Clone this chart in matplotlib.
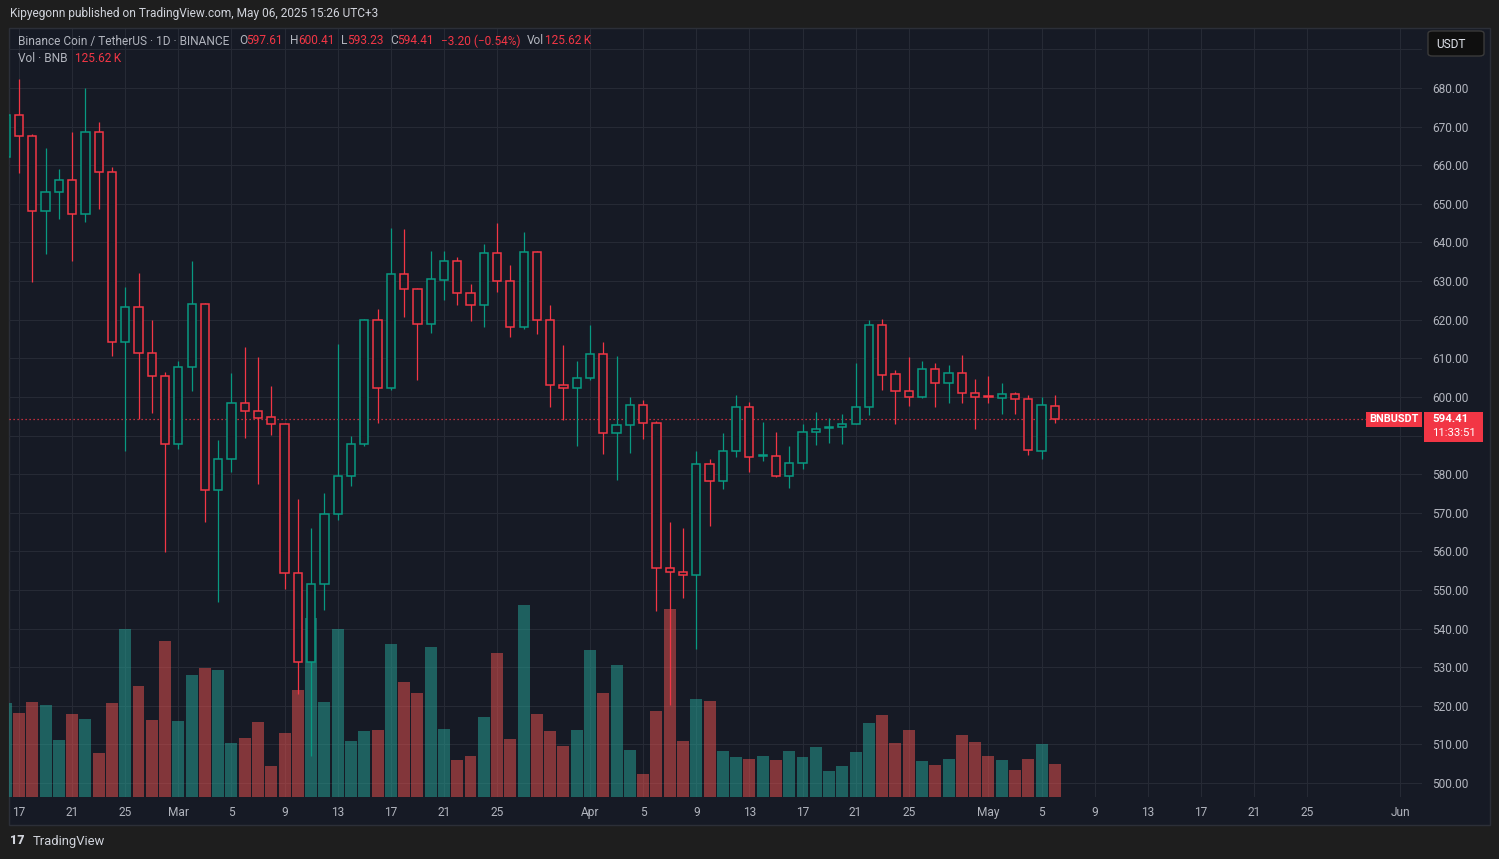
import matplotlib
matplotlib.use("Agg")
import matplotlib.pyplot as plt
import numpy as np
from matplotlib.patches import Rectangle, FancyBboxPatch
from matplotlib.transforms import blended_transform_factory

# BNB/USDT daily candles, 2025-02-16 .. 2025-05-06
FIRST_DAY = "2025-02-16"
OPEN = [662.2, 673.1, 667.5, 648.1, 653.1, 656.3, 647.5, 668.5, 658.3, 614.1,
        623.4, 611.5, 605.3, 587.9, 607.8, 624.0, 575.9, 583.9, 598.3, 596.4,
        594.7, 593.1, 554.5, 531.3, 551.6, 569.8, 579.6, 587.7, 619.8, 602.2,
        631.8, 627.9, 618.8, 630.4, 635.1, 627.0, 623.7, 637.2, 629.9, 618.1,
        637.6, 619.9, 603.1, 602.3, 604.9, 611.1, 590.6, 592.7, 597.9, 593.2,
        555.6, 554.6, 554.0, 582.5, 578.3, 586.1, 597.5, 584.6, 584.8, 579.6,
        583.0, 590.8, 591.9, 592.1, 593.1, 597.5, 618.6, 605.9, 601.6, 600.1,
        607.2, 603.6, 606.2, 601.0, 600.1, 599.8, 600.8, 599.5, 586.1, 597.61]
HIGH = [675.0, 682.3, 668.2, 664.4, 659.0, 668.6, 680.0, 671.2, 659.5, 628.6,
        632.0, 619.8, 606.4, 609.4, 635.2, 624.2, 588.8, 606.2, 612.9, 610.3,
        602.7, 593.3, 573.5, 566.0, 575.1, 613.7, 589.8, 620.2, 622.8, 643.8,
        643.5, 628.2, 637.8, 637.8, 636.3, 629.3, 639.6, 645.1, 634.2, 642.6,
        637.8, 623.9, 613.5, 609.2, 618.7, 614.1, 610.6, 600.1, 599.3, 593.8,
        567.7, 566.1, 586.1, 583.8, 590.6, 600.6, 598.8, 593.4, 591.0, 587.2,
        593.1, 596.2, 594.6, 595.5, 608.7, 620.0, 620.2, 607.0, 610.3, 609.4,
        608.9, 608.3, 610.9, 604.7, 605.5, 603.7, 601.3, 600.5, 600.1, 600.41]
LOW = [660.0, 658.1, 629.8, 637.0, 646.1, 635.2, 645.4, 648.7, 610.6, 585.9,
       594.4, 595.8, 559.8, 586.6, 601.5, 567.7, 546.9, 580.6, 589.4, 577.5,
       590.2, 550.2, 523.0, 506.9, 544.8, 568.1, 576.8, 587.2, 593.3, 601.8,
       620.6, 604.4, 616.6, 625.1, 623.9, 619.7, 618.2, 627.2, 615.4, 617.5,
       616.2, 597.3, 593.9, 587.4, 604.5, 585.1, 578.6, 585.4, 589.0, 544.5,
       520.3, 547.8, 534.7, 566.6, 576.2, 584.5, 580.6, 583.4, 579.3, 576.4,
       581.3, 587.6, 588.1, 587.8, 592.9, 595.3, 601.7, 593.0, 597.7, 599.7,
       597.4, 598.4, 598.4, 591.7, 598.4, 595.6, 595.6, 584.9, 583.9, 593.23]
CLOSE = [673.1, 667.5, 648.1, 653.1, 656.3, 647.5, 668.5, 658.3, 614.1, 623.4,
         611.5, 605.3, 587.9, 607.8, 624.0, 575.9, 584.0, 598.3, 596.4, 594.6,
         593.0, 554.5, 531.3, 551.6, 569.8, 579.6, 587.7, 619.8, 602.2, 631.8,
         627.9, 618.8, 630.5, 635.1, 627.0, 623.7, 637.2, 629.9, 618.1, 637.6,
         619.9, 603.1, 602.3, 604.9, 611.1, 590.6, 592.7, 597.9, 593.2, 555.6,
         554.6, 553.8, 582.5, 578.3, 586.1, 597.5, 584.5, 585.0, 579.6, 583.0,
         590.8, 591.8, 592.2, 593.1, 597.5, 618.6, 605.7, 601.6, 600.1, 607.2,
         603.6, 606.2, 601.0, 600.0, 599.9, 600.8, 599.5, 586.3, 597.8, 594.41]
# volume, thousands of BNB
VOLUME_K = [358, 320, 362, 351, 217, 316, 297, 168, 358, 640, 423, 293, 594,
            290, 465, 491, 484, 206, 225, 286, 118, 244, 408, 682, 362, 640,
            213, 251, 255, 583, 438, 396, 572, 259, 141, 156, 305, 549, 221,
            732, 316, 251, 194, 255,
            560, 396, 503, 179, 88, 328, 716, 213, 373, 366, 175, 152, 145,
            156, 141, 175, 152, 191, 99, 118, 171, 282, 312, 206, 255, 137,
            122, 145, 236, 210,
            156, 141, 103, 145, 202, 125.62]

TICK_DATES = ["2025-02-17", "2025-02-21", "2025-02-25", "2025-03-01", "2025-03-05",
              "2025-03-09", "2025-03-13", "2025-03-17", "2025-03-21", "2025-03-25",
              "2025-04-01", "2025-04-05", "2025-04-09", "2025-04-13", "2025-04-17",
              "2025-04-21", "2025-04-25", "2025-05-01", "2025-05-05", "2025-05-09",
              "2025-05-13", "2025-05-17", "2025-05-21", "2025-05-25", "2025-06-01"]
TICK_LABELS = ["17", "21", "25", "Mar", "5", "9", "13", "17", "21", "25",
               "Apr", "5", "9", "13", "17", "21", "25",
               "May", "5", "9", "13", "17", "21", "25", "Jun"]
PRICE_TICKS = list(range(500, 690, 10))
HIDDEN_TICKS = [590, 690]          # covered by the last-price box / currency box
LAST_PRICE = 594.41

BG = "#161a25"
GRID = "#262a35"
UP = "#089981"
DOWN = "#f23645"
VOL_UP = "#26a69a"
VOL_DOWN = "#ef5350"
TXT = "#b2b5be"
FS = 8.6

W, H = 1499, 859
FONT = ["Roboto", "DejaVu Sans"]
plt.rcParams["font.family"] = FONT


def fx(x):
    return x / W


def fy(y):
    return 1 - y / H


o = np.array(OPEN)
hi = np.array(HIGH)
lo = np.array(LOW)
c = np.array(CLOSE)
vol = np.array(VOLUME_K)
x = np.arange(len(o))
up = c >= o
day0 = np.datetime64(FIRST_DAY)
tick_x = [(np.datetime64(d) - day0).astype(int) for d in TICK_DATES]

fig = plt.figure(figsize=(W / 100, H / 100), dpi=100, facecolor="#1e1e1e")

# chart panel background
fig.add_artist(Rectangle((fx(8.5), fy(824.5)), (1490 - 8.5) / W, (824.5 - 27.5) / H,
                         transform=fig.transFigure, facecolor=BG, edgecolor="#2c2f38",
                         lw=1, zorder=-1))

rect = [fx(9), fy(797), (1422 - 9) / W, (797 - 29) / H]
ax_vol = fig.add_axes(rect, facecolor="none")
ax = fig.add_axes(rect, sharex=ax_vol, facecolor="none")

# volume pane (bottom layer)
ax_vol.bar(x, vol, width=0.9, color=np.where(up, VOL_UP, VOL_DOWN), alpha=0.5, lw=0)
ax_vol.set_ylim(0, 2930)
ax_vol.set_xlim(0.247, 106.65)
ax_vol.set_xticks(tick_x)
ax_vol.set_xticklabels(TICK_LABELS)
ax_vol.tick_params(axis="x", length=0, pad=6.5, labelcolor=TXT, labelsize=FS)
ax_vol.tick_params(axis="y", left=False, labelleft=False)
ax_vol.grid(True, axis="x", color=GRID, lw=0.8)
ax_vol.set_axisbelow(True)
for s in ax_vol.spines.values():
    s.set_visible(False)

# price pane (top layer)
ax.set_ylim(496.37, 695.3)
ax.set_yticks(PRICE_TICKS)
ax.set_yticklabels(["" if p in HIDDEN_TICKS else "%.2f" % p for p in PRICE_TICKS])
ax.yaxis.tick_right()
ax.tick_params(axis="y", length=0, pad=7.2, labelcolor=TXT, labelsize=FS)
ax.tick_params(axis="x", length=0, labelbottom=False)
for s in ax.spines.values():
    s.set_visible(False)

# horizontal price grid drawn under the volume bars
trans = blended_transform_factory(ax_vol.transAxes, ax.transData)
ax_vol.hlines(PRICE_TICKS + [690], 0, 1, transform=trans, colors=GRID, lw=0.8, zorder=0)

colors = np.where(up, UP, DOWN)
ax.vlines(x, lo, hi, colors=colors, lw=0.9, zorder=2)
body_lo = np.minimum(o, c)
body_h = np.maximum(np.abs(c - o), 0.25)
ax.bar(x, body_h, bottom=body_lo, width=0.62, facecolor=BG, edgecolor=colors,
       linewidth=1.1, zorder=3)

ax.axhline(LAST_PRICE, color=DOWN, lw=0.9, ls=(0, (1, 2.2)), zorder=1)

# header
fig.text(fx(10), fy(14), "Kipyegonn published on TradingView.com, May 06, 2025 15:26 UTC+3",
         color="#d1d4dc", fontsize=FS, va="center")
fig.text(fx(18), fy(41), "Binance Coin / TetherUS \u00b7 1D \u00b7 BINANCE",
         color=TXT, fontsize=FS, va="center")
for lx, label, vx, val in [(239, "O", 246, "597.61"), (290, "H", 298, "600.41"),
                           (341, "L", 347, "593.23"), (390, "C", 397, "594.41")]:
    fig.text(fx(lx), fy(41), label, color=TXT, fontsize=FS, va="center")
    fig.text(fx(vx), fy(41), val, color=DOWN, fontsize=FS, va="center")
fig.text(fx(441), fy(41), "\u22123.20 (\u22120.54%)", color=DOWN, fontsize=FS, va="center")
fig.text(fx(527), fy(41), "Vol", color=TXT, fontsize=FS, va="center")
fig.text(fx(545), fy(41), "125.62\u2009K", color=DOWN, fontsize=FS, va="center",
         family=FONT)
fig.text(fx(18), fy(58), "Vol \u00b7 BNB", color=TXT, fontsize=FS, va="center")
fig.text(fx(75), fy(58), "125.62\u2009K", color=DOWN, fontsize=FS, va="center",
         family=FONT)

# currency box
fig.add_artist(FancyBboxPatch((fx(1428), fy(56)), (1484 - 1428) / W, (56 - 31) / H,
                              boxstyle="round,pad=0,rounding_size=0.003",
                              transform=fig.transFigure, facecolor="#0f0f0f",
                              edgecolor="#3a3a3a", lw=1, zorder=5))
fig.text(fx(1436), fy(44), "USDT", color="#e0e3eb", fontsize=FS, va="center", zorder=6)

# last price labels
fig.add_artist(Rectangle((fx(1366), fy(427)), (1422 - 1366) / W, (427 - 412) / H,
                         transform=fig.transFigure, facecolor=DOWN, lw=0, zorder=5))
fig.text(fx(1394), fy(419.5), "BNBUSDT", color="white", fontsize=7.8, weight="bold",
         ha="center", va="center", zorder=6)
fig.add_artist(Rectangle((fx(1424), fy(441.5)), (1483 - 1424) / W, (441.5 - 411.5) / H,
                         transform=fig.transFigure, facecolor=DOWN, lw=0, zorder=5))
fig.text(fx(1432), fy(419), "%.2f" % LAST_PRICE, color="white", fontsize=8.2,
         weight="bold", va="center", zorder=6)
fig.text(fx(1432), fy(433.5), "11:33:51", color="white", fontsize=8.2, va="center", zorder=6)

# footer
fig.text(fx(10), fy(841), "17", color="#d1d4dc", fontsize=9, weight="heavy", va="center")
fig.text(fx(33), fy(841), "TradingView", color="#d1d4dc", fontsize=9.4, va="center")

fig.savefig("out.png", dpi=100, facecolor=fig.get_facecolor())
